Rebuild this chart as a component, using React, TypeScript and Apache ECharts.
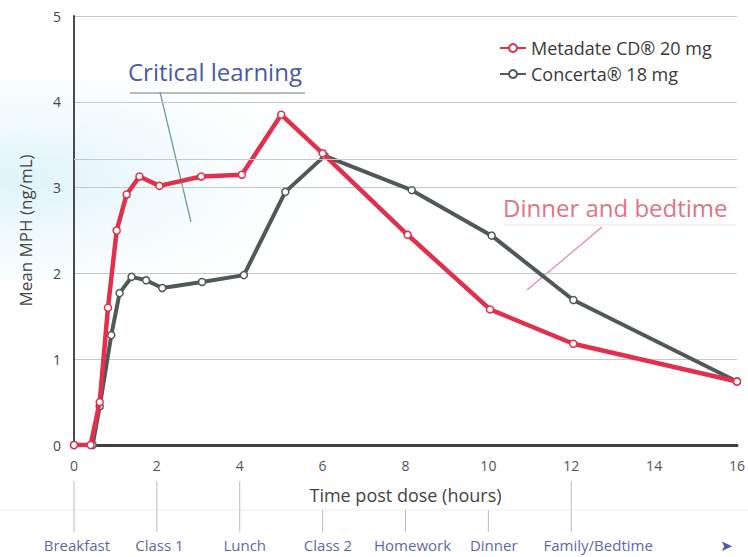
import React, { useEffect, useRef } from "react";
import * as echarts from "echarts";

// ---- data ----
const metadateName = "Metadate CD® 20 mg";
const concertaName = "Concerta® 18 mg";

const metadateHours = [0, 0.4, 0.62, 0.82, 1.03, 1.27, 1.58, 2.06, 3.07, 4.05, 5.0, 6.0, 8.05, 10.04, 12.05, 16];
const metadateConc = [0, 0, 0.5, 1.6, 2.5, 2.92, 3.13, 3.02, 3.13, 3.15, 3.85, 3.4, 2.45, 1.58, 1.18, 0.74];

const concertaHours = [0, 0.45, 0.62, 0.9, 1.1, 1.39, 1.74, 2.13, 3.09, 4.1, 5.1, 6.05, 8.15, 10.08, 12.05, 16];
const concertaConc = [0, 0, 0.45, 1.28, 1.77, 1.96, 1.92, 1.83, 1.9, 1.98, 2.95, 3.37, 2.97, 2.44, 1.69, 0.74];

const xTicks = [0, 2, 4, 6, 8, 10, 12, 14, 16];
const yTicks = [0, 1, 2, 3, 4, 5];
const extraGridLines = [3.33];

const timelineLabels = ["Breakfast", "Class 1", "Lunch", "Class 2", "Homework", "Dinner", "Family/Bedtime"];
const timelineLabelHours = [0.07, 2.06, 4.12, 6.13, 8.17, 10.13, 12.65];
const timelineTickHours = [0, 2, 4, 6, 8, 10, 12];
const timelineShortTick = [false, false, false, true, true, true, false];

const RED = "#e1304e";
const GRAY = "#505858";
const FONT = "'Open Sans', 'Noto Sans', sans-serif";

export default function App() {
  const ref = useRef<HTMLDivElement>(null);

  useEffect(() => {
    if (!ref.current) return;
    const chart = echarts.init(ref.current, null, { renderer: "svg" });

    const symbolStyle = (color: string) => ({
      color: "#ffffff",
      borderColor: color,
      borderWidth: 1.5,
    });

    const staticGraphics: any[] = [
      {
        type: "rect",
        z: -10,
        silent: true,
        shape: { x: 0, y: 80, width: 460, height: 200 },
        style: {
          fill: new echarts.graphic.RadialGradient(0.05, 0.5, 0.75, [
            { offset: 0, color: "rgba(196,236,246,0.6)" },
            { offset: 0.5, color: "rgba(220,244,250,0.3)" },
            { offset: 1, color: "rgba(255,255,255,0)" },
          ]),
        },
      },
      {
        type: "line",
        silent: true,
        shape: { x1: 0, y1: 510, x2: 748, y2: 510 },
        style: { stroke: "#efefef", lineWidth: 1 },
      },
      {
        type: "text",
        left: 128,
        top: 59,
        style: { text: "Critical learning", fill: "#4b5aa3", font: `24px ${FONT}` },
      },
      {
        type: "line",
        silent: true,
        shape: { x1: 130, y1: 93, x2: 305, y2: 93 },
        style: { stroke: "#a0a6a6", lineWidth: 1.5 },
      },
      {
        type: "line",
        silent: true,
        shape: { x1: 160, y1: 92, x2: 191, y2: 222 },
        style: { stroke: "#6a9898", lineWidth: 1.2 },
      },
      {
        type: "text",
        left: 503,
        top: 195,
        style: { text: "Dinner and bedtime", fill: "#e07487", font: `24px ${FONT}` },
      },
      {
        type: "line",
        silent: true,
        shape: { x1: 504, y1: 225, x2: 736, y2: 225 },
        style: { stroke: "#f3dde1", lineWidth: 1 },
      },
      {
        type: "line",
        silent: true,
        shape: { x1: 602, y1: 227, x2: 527, y2: 290 },
        style: { stroke: "#d98c9a", lineWidth: 1.2 },
      },
      {
        type: "text",
        left: 720,
        top: 537,
        style: { text: "➤", fill: "#4b5aa3", font: `15px ${FONT}` },
      },
    ];

    const option: any = {
      animation: false,
      backgroundColor: "#ffffff",
      textStyle: { fontFamily: FONT },
      grid: { left: 74, right: 6, top: 16, bottom: 112 },
      legend: {
        orient: "vertical",
        left: 494,
        top: 34,
        itemGap: 8,
        itemWidth: 26,
        itemHeight: 10,
        data: [metadateName, concertaName],
        textStyle: { fontFamily: FONT, fontSize: 18, color: "#3a3a3a" },
      },
      xAxis: {
        type: "value",
        min: 0,
        max: 16,
        interval: 2,
        z: 2,
        axisLine: { show: true, onZero: false, lineStyle: { color: "#3e3e3e", width: 3 } },
        axisTick: { show: false },
        axisLabel: {
          color: "#555",
          fontSize: 14,
          margin: 13,
          formatter: (v: number) => (xTicks.includes(v) ? String(v) : ""),
        },
        splitLine: { show: false },
        name: "Time post dose (hours)",
        nameLocation: "middle",
        nameGap: 41,
        nameTextStyle: { fontFamily: FONT, fontSize: 18, color: "#444" },
      },
      yAxis: {
        type: "value",
        min: 0,
        max: 5,
        interval: 1,
        z: 2,
        name: "Mean MPH (ng/mL)",
        nameLocation: "middle",
        nameGap: 40,
        nameTextStyle: { fontFamily: FONT, fontSize: 17, color: "#444" },
        axisLine: { show: true, lineStyle: { color: "#4a4a4a", width: 2 } },
        axisTick: { show: false },
        axisLabel: {
          color: "#444",
          fontSize: 14,
          margin: 13,
          formatter: (v: number) => (yTicks.includes(v) ? String(v) : ""),
        },
        splitLine: { show: true, lineStyle: { color: "#c8c8c8", width: 1 } },
      },
      graphic: staticGraphics,
      series: [
        {
          name: concertaName,
          type: "line",
          data: concertaHours.map((h, i) => [h, concertaConc[i]]),
          symbol: "circle",
          symbolSize: 7,
          showSymbol: true,
          lineStyle: { color: GRAY, width: 4 },
          itemStyle: symbolStyle(GRAY),
          z: 3,
          markLine: {
            silent: true,
            symbol: "none",
            label: { show: false },
            lineStyle: { color: "#c8c8c8", width: 1, type: "solid" },
            data: extraGridLines.map((v) => ({ yAxis: v })),
          },
        },
        {
          name: metadateName,
          type: "line",
          data: metadateHours.map((h, i) => [h, metadateConc[i]]),
          symbol: "circle",
          symbolSize: 7,
          showSymbol: true,
          lineStyle: { color: RED, width: 4.5 },
          itemStyle: symbolStyle(RED),
          z: 4,
        },
      ],
    };

    chart.setOption(option);

    // Timeline below the axis, positioned through the x axis scale
    const timeline: any[] = [];
    timelineTickHours.forEach((h, i) => {
      const px = chart.convertToPixel({ xAxisIndex: 0 }, h) as number;
      timeline.push({
        type: "line",
        silent: true,
        shape: { x1: px, y1: timelineShortTick[i] ? 510 : 481, x2: px, y2: 532 },
        style: { stroke: "#bcbcbc", lineWidth: 1 },
      });
    });
    timelineLabelHours.forEach((h, i) => {
      const px = chart.convertToPixel({ xAxisIndex: 0 }, h) as number;
      timeline.push({
        type: "text",
        x: px,
        y: 545,
        style: {
          text: timelineLabels[i],
          fill: "#5b6aa6",
          font: `15px ${FONT}`,
          align: "center",
          verticalAlign: "middle",
        },
      });
    });
    chart.setOption({ graphic: [...staticGraphics, ...timeline] });

    return () => chart.dispose();
  }, []);

  return (
    <div
      ref={ref}
      style={{ position: "fixed", left: 0, top: 0, width: 748, height: 557 }}
    />
  );
}
